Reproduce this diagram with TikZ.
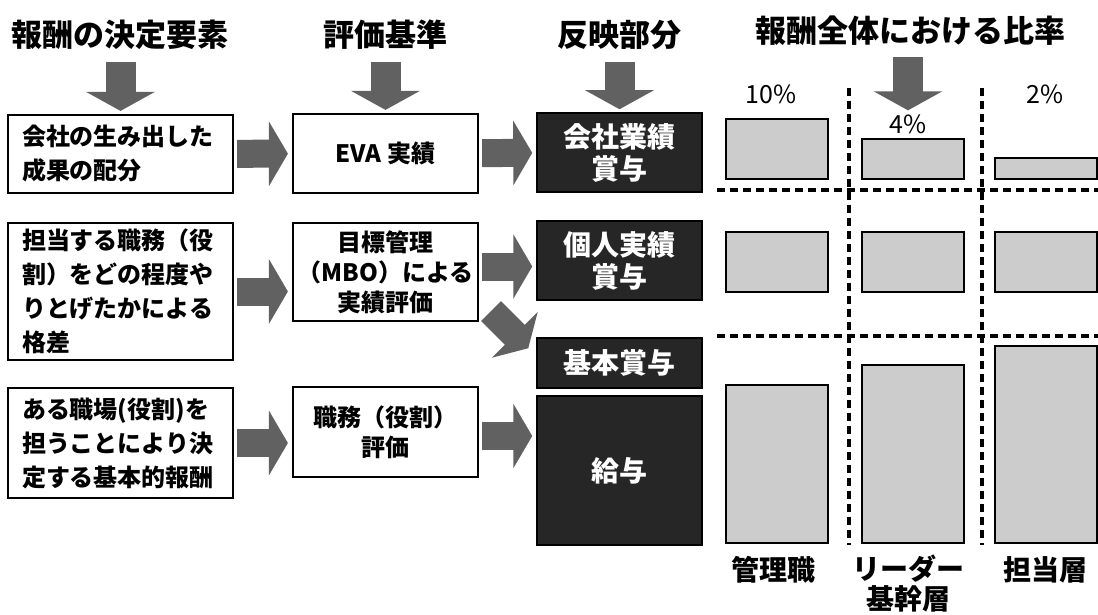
\documentclass[tikz,border=0pt]{standalone}
\usepackage{fontspec}
\setmainfont{Noto Sans CJK JP}
\usepackage{tikz}
\usetikzlibrary{arrows.meta,calc}
\definecolor{arrowgray}{gray}{0.38}
\definecolor{plategray}{gray}{0.15}
\definecolor{bargray}{gray}{0.8}
\tikzset{
  hdr/.style={font=\fontsize{31}{34}\selectfont\bfseries,inner sep=0pt},
  lbox/.style={draw,line width=2.2pt,minimum width=225pt,text width=197pt,
    inner xsep=14pt,align=left,font=\fontsize{24}{34}\selectfont\bfseries},
  mbox/.style={draw,line width=2.2pt,minimum width=185pt,align=center,
    font=\fontsize{24}{30}\selectfont\bfseries},
  dbox/.style={draw=black,fill=plategray,text=white,line width=1.5pt,
    minimum width=165pt,align=center,font=\fontsize{28}{32}\selectfont\bfseries},
  blk/.style={draw=arrowgray,line width=28pt,-{Triangle[length=19pt,width=64pt]},
    shorten <=3pt,shorten >=4pt},
  dblk/.style={draw=arrowgray,line width=30pt,-{Triangle[length=19pt,width=68pt]}},
  ratiobar/.style={draw,line width=2.2pt,fill=bargray},
  sepline/.style={draw=black,line width=3.4pt,dash pattern=on 8pt off 5pt},
  pct/.style={font=\fontsize{25}{28}\selectfont,inner sep=0pt},
  grp/.style={font=\fontsize{28}{30}\selectfont\bfseries,inner sep=0pt,align=center},
}

\begin{document}
\begin{tikzpicture}[x=1pt,y=-1pt]
  \useasboundingbox (0,0) rectangle (1098,615);
  \node[hdr] (h1) at (120.5,35) {報酬の決定要素};
  \node[hdr] (h2) at (385.5,35) {評価基準};
  \node[hdr] (h3) at (619.5,35) {反映部分};
  \node[hdr] (h4) at (910,31) {報酬全体における比率};

  \node[lbox,minimum height=78pt] (lbox1) at (120.5,154) {会社の生み出した\\成果の配分};
  \node[lbox,minimum height=137pt] (lbox2) at (120.5,291.5) {担当する職務（役\\割）をどの程度や\\りとげたかによる\\格差};
  \node[lbox,minimum height=110pt] (lbox3) at (120.5,443) {ある職場(役割)を\\担うことにより決\\定する基本的報酬};

  \node[mbox,minimum height=79pt] (mbox1) at (385.5,153.5) {EVA 実績};
  \node[mbox,minimum height=98pt] (mbox2) at (385.5,272) {目標管理\\（MBO）による\\実績評価};
  \node[mbox,minimum height=90pt] (mbox3) at (385.5,432) {職務（役割）\\評価};

  \node[dbox,minimum height=79pt] (dbox1) at (619.5,152.5) {会社業績\\賞与};
  \node[dbox,minimum height=79pt] (dbox2) at (619.5,260.5) {個人実績\\賞与};
  \node[dbox,minimum height=50pt] (dbox3) at (619.5,363) {基本賞与};
  \node[dbox,minimum height=149pt] (dbox4) at (619.5,470.5) {給与};

  \node[pct] (p10) at (771,94) {10\%};
  \node[pct] (p4) at (908,124) {4\%};
  \node[pct] (p2) at (1045,94) {2\%};

  \draw[dblk,shorten <=12pt,shorten >=3pt] (h1) -- (lbox1);
  \draw[dblk,shorten <=12pt,shorten >=3pt] (h2) -- (mbox1);
  \draw[dblk,shorten <=12pt,shorten >=3pt] (h3) -- (dbox1);
  \draw[dblk,shorten <=11pt,shorten >=4pt] (h4.south -| p4) -- (p4);

  \draw[blk] (lbox1) -- (mbox1);
  \draw[blk] (lbox2.east) -- (lbox2.east -| mbox2.west);
  \draw[blk] (lbox3.east) -- (lbox3.east -| mbox3.west);
  \draw[blk] (mbox1) -- (dbox1);
  \draw[blk] ([yshift=-6pt]mbox2.east |- dbox2.west) -- ([yshift=-6pt]dbox2.west);
  \draw[blk] ([yshift=-4pt]mbox3.east) -- ([yshift=-4pt]mbox3.east -| dbox4.west);
  \coordinate (dtail) at ([shift={(12,-11)}]mbox2.south east);
  \coordinate (dtip) at ([shift={(-8,11)}]dbox3.north west);
  \draw[blk,shorten <=0pt,shorten >=0pt] (dtail) -- (dtip);

  \draw[sepline] (849,88) -- (849,545);
  \draw[sepline] (982,88) -- (982,545);
  \draw[sepline] (717,190) -- (1098,190);
  \draw[sepline] (717,336) -- (1098,336);
  \foreach \bx/\ta/\tc in {726/119/385,862/139/365,995/158/346}{
    \draw[ratiobar] (\bx,\ta) rectangle ({\bx+102},179);
    \draw[ratiobar] (\bx,232) rectangle ({\bx+102},292);
    \draw[ratiobar] (\bx,\tc) rectangle ({\bx+102},543);
  }

  \node[grp] (kanri) at (773,570) {管理職};
  \node[grp] (leader) at (908,584) {リーダー\\基幹層};
  \node[grp] (tanto) at (1045,570) {担当層};
\end{tikzpicture}
\end{document}
